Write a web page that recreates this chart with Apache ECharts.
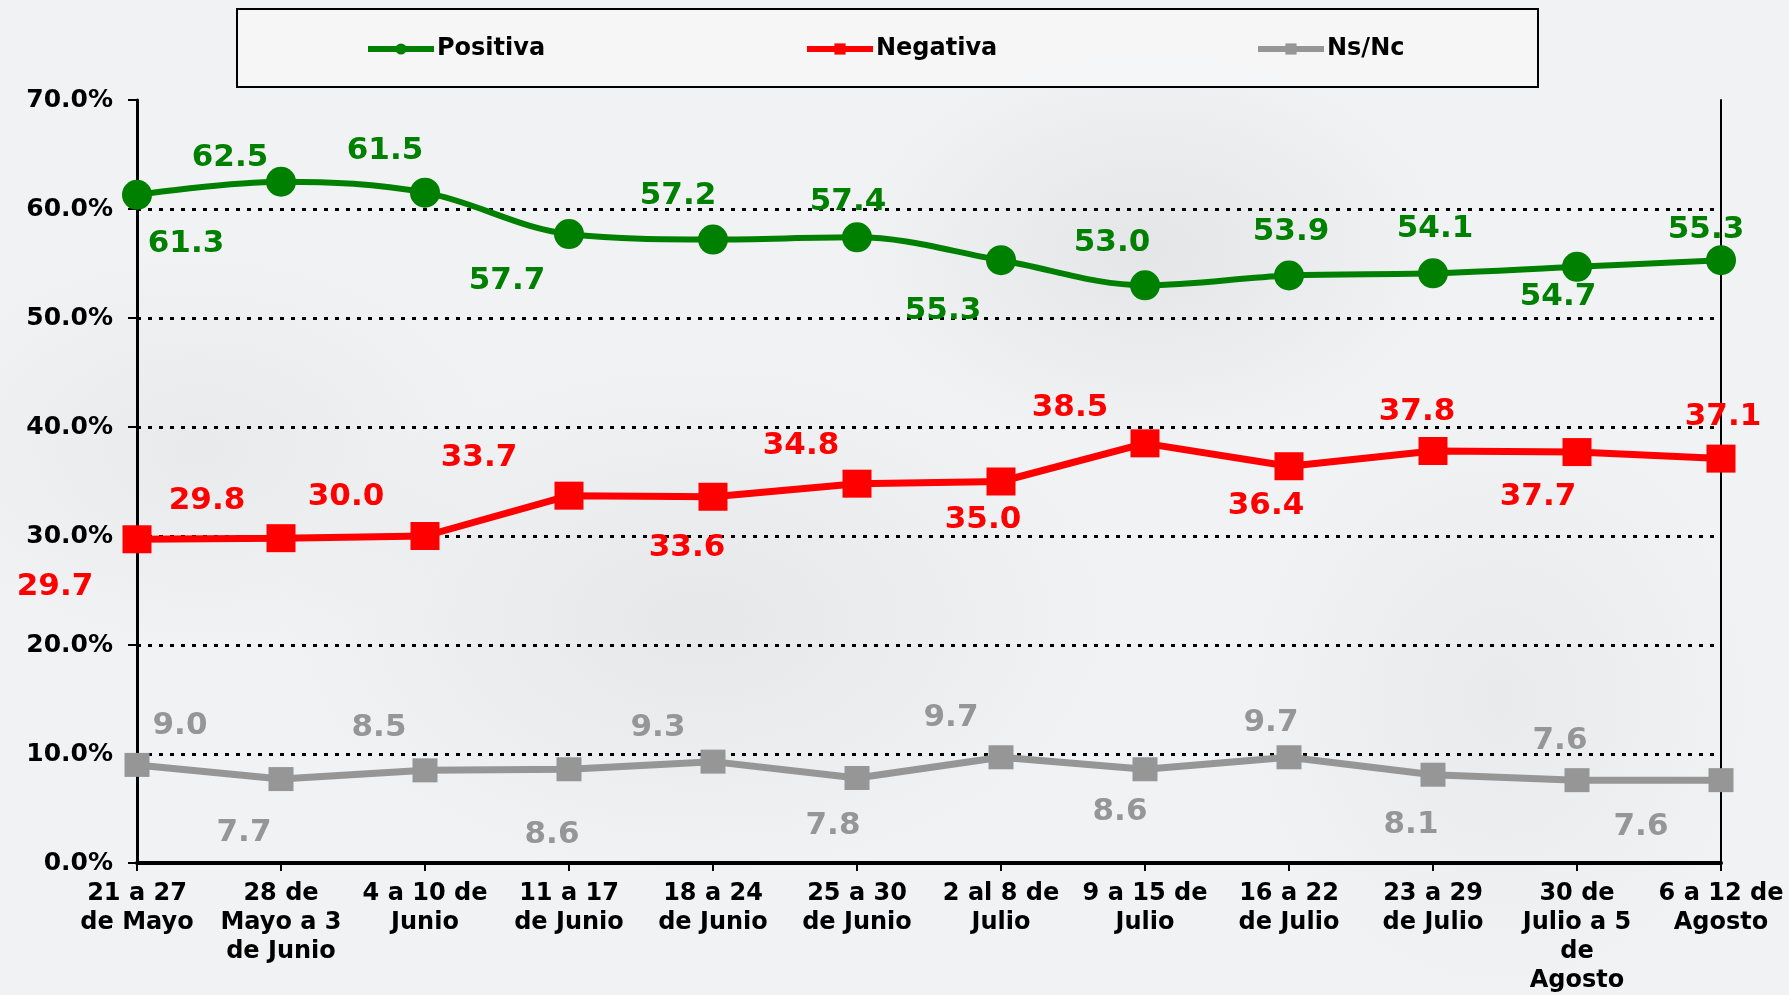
<!DOCTYPE html>
<html>
<head>
<meta charset="utf-8">
<script src="https://cdn.jsdelivr.net/npm/echarts@6/dist/echarts.min.js"></script>
<style>
    html, body {
        margin: 0;
        padding: 0;
    }
    #chart {
        width: 1789px;
        height: 995px;
        background:
            radial-gradient(ellipse 300px 200px at 1150px 250px, rgba(190,192,196,0.25), rgba(0,0,0,0)),
            radial-gradient(ellipse 420px 260px at 700px 620px, rgba(200,200,204,0.25), rgba(0,0,0,0)),
            radial-gradient(ellipse 260px 300px at 1500px 700px, rgba(205,206,210,0.22), rgba(0,0,0,0)),
            radial-gradient(ellipse 300px 200px at 200px 450px, rgba(205,205,208,0.22), rgba(0,0,0,0)),
            #f0f2f4;
    }
</style>
</head>
<body>
<div id="chart"></div>
<script>
// semanas
var categories = [
    "21 a 27\nde Mayo", "28 de\nMayo a 3\nde Junio", "4 a 10 de\nJunio", "11 a 17\nde Junio",
    "18 a 24\nde Junio", "25 a 30\nde Junio", "2 al 8 de\nJulio", "9 a 15 de\nJulio",
    "16 a 22\nde Julio", "23 a 29\nde Julio", "30 de\nJulio a 5\nde\nAgosto", "6 a 12 de\nAgosto"
];
var positiva = [61.3, 62.5, 61.5, 57.7, 57.2, 57.4, 55.3, 53.0, 53.9, 54.1, 54.7, 55.3];
var negativa = [29.7, 29.8, 30.0, 33.7, 33.6, 34.8, 35.0, 38.5, 36.4, 37.8, 37.7, 37.1];
var nsnc = [9.0, 7.7, 8.5, 8.6, 9.3, 7.8, 9.7, 8.6, 9.7, 8.1, 7.6, 7.6];

// where each value label sits relative to its point
var posOffsets = [[49, 49], [-51, -24], [-40, -42], [-62, 47], [-35, -44], [-9, -35],
    [-58, 51], [-33, -42], [2, -44], [2, -44], [-19, 30], [-15, -30]];
var negOffsets = [[-82, 48], [-74, -37], [-79, -39], [-90, -38], [-26, 51], [-56, -38],
    [-18, 38], [-75, -35], [-23, 40], [-16, -39], [-39, 45], [2, -42]];
var nsOffsets = [[43, -39], [-37, 54], [-46, -42], [-17, 66], [-55, -34], [-24, 48],
    [-50, -39], [-25, 43], [-18, -34], [-22, 50], [-17, -39], [-80, 47]];

var FONT = "DejaVu Sans";

function withLabels(values, offsets) {
    return values.map(function (v, i) {
        return {value: v, label: {offset: offsets[i]}};
    });
}

function labelStyle(color) {
    return {
        show: true,
        position: "inside",
        color: color,
        fontFamily: FONT,
        fontWeight: "bold",
        fontSize: 31,
        formatter: function (p) {
            return p.value.toFixed(1);
        }
    };
}

function legendAt(name, left) {
    return {
        data: [name],
        left: left,
        top: 37,
        padding: 0,
        itemWidth: 66,
        itemHeight: 14,
        itemGap: 4,
        selectedMode: false,
        lineStyle: {width: 6},
        textStyle: {
            color: "#000",
            fontFamily: FONT,
            fontWeight: "bold",
            fontSize: 24,
            padding: [0, 0, 0, -2]
        }
    };
}

var chartInstance = echarts.init(document.getElementById("chart"));

var gridLineColors = ["rgba(0,0,0,0)", "#000", "#000", "#000", "#000", "#000", "#000", "rgba(0,0,0,0)"];

var option = {
    animation: false,
    textStyle: {fontFamily: FONT},
    graphic: [{
        type: "rect",
        z: -1,
        shape: {x: 237, y: 9, width: 1301, height: 78},
        style: {fill: "rgba(248,248,248,0.7)", stroke: "#000", lineWidth: 2}
    }],
    legend: [
        legendAt("Positiva", 365),
        legendAt("Negativa", 804),
        legendAt("Ns/Nc", 1255)
    ],
    grid: {
        left: 137,
        right: 68,
        top: 100,
        bottom: 130
    },
    xAxis: {
        type: "category",
        data: categories,
        boundaryGap: false,
        axisLine: {lineStyle: {color: "#000", width: 4}},
        axisTick: {show: true, length: 8, lineStyle: {color: "#000", width: 2}, interval: 0},
        axisLabel: {
            interval: 0,
            hideOverlap: false,
            margin: 16,
            color: "#000",
            fontFamily: FONT,
            fontWeight: "bold",
            fontSize: 24,
            lineHeight: 29,
            align: "center"
        },
        splitLine: {show: false}
    },
    yAxis: [{
        type: "value",
        min: 0,
        max: 70,
        interval: 10,
        axisLine: {show: true, lineStyle: {color: "#000", width: 3}},
        axisTick: {show: true, inside: false, length: 9, lineStyle: {color: "#000", width: 2}},
        axisLabel: {
            margin: 24,
            color: "#000",
            fontFamily: FONT,
            fontWeight: "bold",
            fontSize: 25,
            formatter: function (v) {
                return v.toFixed(1) + "%";
            }
        },
        splitLine: {
            show: true,
            lineStyle: {color: gridLineColors, width: 3, type: [4, 7]}
        }
    }, {
        type: "value",
        position: "right",
        min: 0,
        max: 70,
        interval: 10,
        axisLine: {show: true, lineStyle: {color: "#000", width: 2}},
        axisTick: {show: false},
        axisLabel: {show: false},
        splitLine: {show: false}
    }],
    series: [{
        name: "Positiva",
        type: "line",
        smooth: 0.35,
        data: withLabels(positiva, posOffsets),
        symbol: "circle",
        symbolSize: 30,
        itemStyle: {color: "#008000"},
        lineStyle: {color: "#008000", width: 6},
        label: labelStyle("#008000"),
        z: 4
    }, {
        name: "Negativa",
        type: "line",
        data: withLabels(negativa, negOffsets),
        symbol: "rect",
        symbolSize: [29, 28],
        itemStyle: {color: "#ff0000"},
        lineStyle: {color: "#ff0000", width: 7},
        label: labelStyle("#ff0000"),
        z: 3
    }, {
        name: "Ns/Nc",
        type: "line",
        data: withLabels(nsnc, nsOffsets),
        symbol: "rect",
        symbolSize: [25, 24],
        itemStyle: {color: "#969696"},
        lineStyle: {color: "#969696", width: 7},
        label: labelStyle("#969696"),
        z: 2
    }]
};

chartInstance.setOption(option);
</script>
</body>
</html>
